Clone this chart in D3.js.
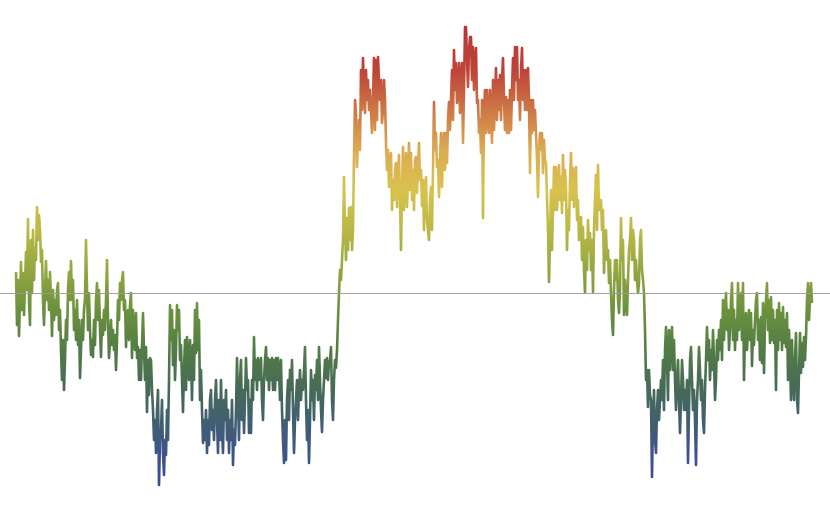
<!DOCTYPE html>
<html>
<head>
<meta charset="utf-8">
<script src="https://cdn.jsdelivr.net/npm/d3@7"></script>
<style>
  html, body { margin: 0; padding: 0; background: #fff; }
  svg { display: block; }
</style>
</head>
<body>
<script>
// Random-walk values (baseline = 0), one per step
const values = [
  21,-32,13,-43,-7, 31,-17,20,-22,8, 41,3,74,-7,-32, 53,0,63,13,45, 33,86,53,78,63,
  31,43,-7,-32,3, 32,-7,13,-17,21, -7,-43,3,-27,-7, -22,3,10,-37,-17, -57,-87,-47,-97,-67,
  -27,-47,3,21,-7, 32,-7,13,-37,-17, -47,-7,-52,-27,-85, -57,-27,-47,-17,-7, 53,3,-37,0,-37,
  -62,-47,-64,-27,-52, -7,10,-27,3,-37, -64,-27,-42,-17,-37, -7,33,-27,-65,-47, -27,-52,-37,-57,-42,
  -77,-47,-7,-27,10, -7,13,21,-17,-7, -54,-27,-17,-47,-12, 0,-65,-17,-37,-57, -20,-65,-54,-87,-57,
  -87,-52,-20,-57,-87, -54,-119,-67,-102,-65, -67,-97,-117,-147,-127, -160,-117,-97,-192,-147, -137,-107,-160,-182,-147,
  -162,-117,-147,-87,-12, -47,-17,-72,-37,-87, -57,-12,-37,-17,-67, -52,-87,-119,-77,-47, -97,-44,-67,-87,-47,
  -67,-107,-52,-87,-17, -60,-10,-57,-27,-107, -77,-117,-150,-127,-147, -117,-160,-127,-152,-107, -97,-137,-117,-147,-107,
  -87,-127,-160,-107,-147, -87,-137,-160,-107,-127, -97,-147,-117,-160,-127, -147,-107,-172,-137,-152, -117,-65,-107,-147,-87,
  -67,-127,-97,-140,-107, -65,-97,-87,-140,-107, -140,-87,-107,-44,-87, -67,-97,-65,-87,-77, -65,-107,-127,-87,-67,
  -54,-87,-65,-97,-67, -87,-65,-97,-67,-97, -65,-87,-65,-77,-107, -67,-117,-147,-170,-127, -167,-107,-87,-127,-77,
  -97,-67,-117,-160,-127, -107,-87,-127,-97,-77, -107,-87,-97,-77,-54, -107,-147,-117,-170,-127, -77,-107,-87,-127,-82,
  -97,-67,-107,-54,-87, -117,-139,-107,-87,-67, -85,-65,-87,-69,-67, -54,-107,-127,-87,-67, -75,-57,-27,0,23,
  13,33,53,116,63, 33,75,43,85,53, 86,43,63,136,193, 180,126,153,173,143, 223,183,235,203,180,
  223,193,213,183,203, 183,160,193,235,163, 233,173,236,213,193, 213,170,183,213,193, 150,123,143,106,133,
  140,83,113,93,123, 130,86,118,138,93, 43,103,146,83,113, 140,86,113,150,103, 140,93,123,83,133,
  136,100,126,150,113, 123,87,113,63,103, 116,73,63,53,93, 106,63,123,191,143, 160,126,133,96,133,
  160,106,143,160,123, 160,130,173,191,163, 193,223,173,243,203, 230,190,203,230,180, 213,230,150,203,266,
  266,233,206,243,256, 256,213,246,203,233, 245,190,193,160,173, 140,193,75,183,203, 160,203,173,160,203,
  173,150,213,163,193, 225,173,213,183,218, 173,213,235,193,163, 196,160,193,160,203, 163,203,235,193,246,
  213,246,193,213,173, 223,245,193,223,183, 223,183,225,193,120, 193,160,193,163,183, 160,133,96,143,160,
  143,160,120,153,133, 130,96,63,11,53, 103,43,83,126,83, 126,83,103,128,93, 116,80,138,93,123,
  106,43,83,63,113, 140,93,125,86,106, 126,73,93,53,73, 76,33,66,23,0, 53,23,73,43,60,
  23,53,1,63,93, 118,63,128,83,93, 93,63,83,20,53, 63,33,43,10,33, 0,-27,-42,3,33,
  13,33,-7,-20,3, 75,33,53,-22,13, -7,-22,13,43,53, 75,33,63,53,13, 33,13,0,10,53,
  63,23,13,0,-37, -87,-77,-114,-77,-102, -107,-184,-127,-97,-147, -160,-117,-97,-127,-107, -87,-107,-67,-117,-57,
  -34,-67,-107,-37,-77, -47,-34,-77,-47,-87, -117,-87,-67,-107,-140, -107,-67,-87,-117,-97, -117,-87,-170,-117,-67,
  -54,-87,-117,-97,-127, -172,-107,-87,-54,-77, -107,-87,-127,-140,-97, -67,-34,-67,-47,-87, -57,-77,-37,-67,-107,
  -87,-47,-67,-37,-57, -27,-67,-7,-47,-17, 0,-37,-17,-57,-37, -7,10,-47,-17,-57, -27,-47,10,-37,-17,
  0,-47,10,-87,-37, -20,-57,-37,-17,-47, -20,-73,-37,-52,-27, -7,0,-47,-27,-67, -24,-70,-10,-80,-27,
  -7,10,-37,-7,-50, -4,-47,-17,-50,-27, -97,-17,-57,-10,-47, -20,-57,-14,-50,-27, -54,-20,-87,-37,-67,
  -107,-47,-87,-107,-67, -40,-107,-120,-80,-40, -80,-50,-74,-44,-67, -44,-7,10,-27,-7, 10,-10
];

// Colour stops of the vertical gradient (value -> colour)
const stopValues = [266, 223, 183, 143, 103, 63, 23, -17, -57, -97, -137, -177, -192];
const stopColors = ["#b83636", "#bd4339", "#cd7846", "#dcab52", "#d8c24e", "#bab847",
                    "#93a740", "#6b913e", "#527c45", "#466a58", "#405c78", "#3c4f96", "#3a4a9a"];

const width = 830, height = 513;

const x = d3.scaleLinear().domain([0, values.length - 1]).range([16, 812]);
const y = d3.scaleLinear().domain([-200, 270]).range([493, 23]);

const svg = d3.select("body").append("svg")
  .attr("width", width).attr("height", height)
  .attr("viewBox", [0, 0, width, height]);

const grad = svg.append("defs").append("linearGradient")
  .attr("id", "line-gradient")
  .attr("gradientUnits", "userSpaceOnUse")
  .attr("x1", 0).attr("x2", 0)
  .attr("y1", y(stopValues[0]))
  .attr("y2", y(stopValues[stopValues.length - 1]));

const span = y(stopValues[stopValues.length - 1]) - y(stopValues[0]);
grad.selectAll("stop")
  .data(stopValues.map((v, i) => ({v, c: stopColors[i]})))
  .join("stop")
  .attr("offset", d => (y(d.v) - y(stopValues[0])) / span)
  .attr("stop-color", d => d.c);

const line = d3.line()
  .x((d, i) => x(i))
  .y(d => y(d));

svg.append("path")
  .datum(values)
  .attr("fill", "none")
  .attr("stroke", "url(#line-gradient)")
  .attr("stroke-width", 2.6)
  .attr("stroke-linejoin", "round")
  .attr("d", line);

svg.append("line")
  .attr("x1", 0).attr("x2", width)
  .attr("y1", y(0) + 0.5).attr("y2", y(0) + 0.5)
  .attr("stroke", "#999")
  .attr("stroke-opacity", 0.9)
  .attr("stroke-width", 1);
</script>
</body>
</html>
